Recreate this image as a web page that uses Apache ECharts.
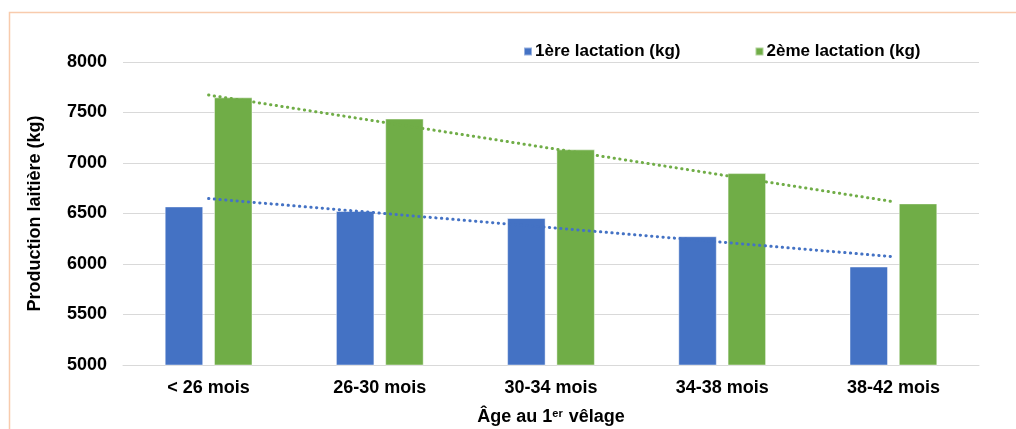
<!DOCTYPE html>
<html>
<head>
<meta charset="utf-8">
<script src="https://cdn.jsdelivr.net/npm/echarts@6/dist/echarts.min.js"></script>
<style>
  html, body { margin: 0; padding: 0; background: #ffffff; }
  #chart { width: 1016px; height: 429px; }
</style>
</head>
<body>
<div id="chart"></div>
<script>
// Age groups at first calving
const categories = ['< 26 mois', '26-30 mois', '30-34 mois', '34-38 mois', '38-42 mois'];

// Milk production per lactation (kg)
const firstLactation = [6570, 6525, 6455, 6275, 5975];
const secondLactation = [7650, 7440, 7135, 6900, 6600];

// Linear trend lines: values at the first and last age group
const firstTrend = [6648, null, null, null, 6072];
const secondTrend = [7673, null, null, null, 6617];

// Value axis ticks
const yMin = 5000;
const yMax = 8000;
const yStep = 500;

const seriesNames = ['1ère lactation (kg)', '2ème lactation (kg)'];

const BLUE = '#4472C4';
const GREEN = '#70AD47';
const FONT = '"Liberation Sans", Arial, sans-serif';

const chart = echarts.init(document.getElementById('chart'), null, { renderer: 'canvas' });

chart.setOption({
  animation: false,
  backgroundColor: '#ffffff',
  textStyle: { fontFamily: FONT },
  graphic: [{
    type: 'rect',
    shape: { x: 9.5, y: 12.5, width: 1040, height: 450 },
    style: { fill: 'none', stroke: '#F8CBAD', lineWidth: 1.5 },
    silent: true,
    z: -1
  }],
  legend: {
    data: seriesNames,
    left: 518,
    top: 38,
    itemWidth: 8,
    itemHeight: 8,
    itemGap: 74,
    icon: 'rect',
    textStyle: { fontFamily: FONT, fontSize: 17, fontWeight: 'bold', color: '#000000', padding: [0, 0, 0, -2] }
  },
  grid: { left: 123, right: 37, top: 62, bottom: 64, outerBoundsMode: 'none', containLabel: false },
  xAxis: {
    type: 'category',
    data: categories,
    axisLine: { show: true, lineStyle: { color: '#D9D9D9', width: 1 } },
    axisTick: { show: false },
    axisLabel: { color: '#000000', fontSize: 18, fontWeight: 'bold', fontFamily: FONT, margin: 14 },
    name: 'Âge au 1{sup|er} vêlage',
    nameLocation: 'middle',
    nameGap: 43,
    nameTextStyle: {
      color: '#000000', fontSize: 18, fontWeight: 'bold', fontFamily: FONT,
      rich: {
        sup: { fontSize: 11, fontWeight: 'bold', fontFamily: FONT, color: '#000000', verticalAlign: 'top', padding: [0, 1, 8, 0] }
      }
    }
  },
  yAxis: {
    type: 'value',
    min: yMin,
    max: yMax,
    interval: yStep,
    axisLine: { show: false },
    axisTick: { show: false },
    splitLine: { lineStyle: { color: '#D9D9D9', width: 1 } },
    axisLabel: {
      color: '#000000', fontSize: 18, fontWeight: 'bold', fontFamily: FONT, margin: 16,
      formatter: (v) => String(v)
    },
    name: 'Production laitière (kg)',
    nameLocation: 'middle',
    nameGap: 79,
    nameTextStyle: { color: '#000000', fontSize: 18, fontWeight: 'bold', fontFamily: FONT }
  },
  series: [
    {
      name: seriesNames[0],
      type: 'bar',
      data: firstLactation,
      barWidth: 38.5,
      barGap: '28%',
      itemStyle: { color: BLUE, borderColor: 'rgba(255,255,255,0.45)', borderWidth: 1 }
    },
    {
      name: seriesNames[1],
      type: 'bar',
      data: secondLactation,
      barWidth: 38.5,
      barGap: '28%',
      itemStyle: { color: GREEN, borderColor: 'rgba(255,255,255,0.45)', borderWidth: 1 }
    },
    {
      name: 'Tendance 1ère',
      type: 'line',
      data: firstTrend,
      connectNulls: true,
      symbol: 'none',
      z: 5,
      lineStyle: { color: BLUE, width: 3, type: [0.3, 5.4], cap: 'round' }
    },
    {
      name: 'Tendance 2ème',
      type: 'line',
      data: secondTrend,
      connectNulls: true,
      symbol: 'none',
      z: 5,
      lineStyle: { color: GREEN, width: 3, type: [0.3, 5.4], cap: 'round' }
    }
  ]
});
</script>
</body>
</html>
